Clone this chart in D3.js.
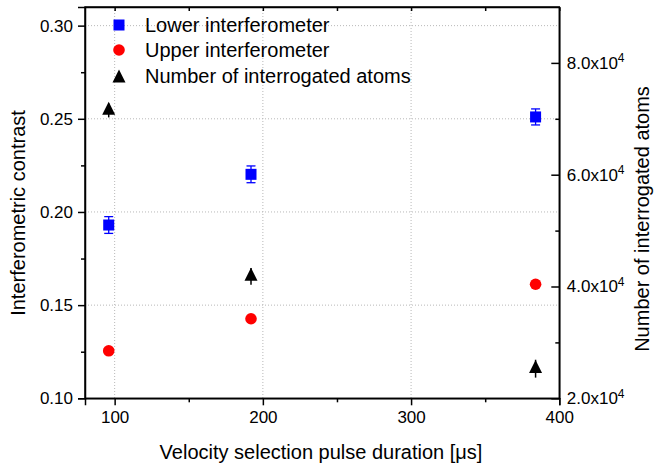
<!DOCTYPE html>
<html><head><meta charset="utf-8">
<script src="https://cdn.jsdelivr.net/npm/d3@7"></script>
<style>
body{margin:0;background:#fff;}
text{font-family:"Liberation Sans",Arial,sans-serif;fill:#000;}
</style></head>
<body><svg id="c" width="654" height="467"></svg>
<script>
// data
const durations = [96, 192, 384];
const lowerContrast = [0.193, 0.2202, 0.251];
const lowerErr = [0.0045, 0.0045, 0.0043];
const upperContrast = [0.1255, 0.1427, 0.1612];
const atoms = [71500, 41800, 25300];
const atomsErr = [1250, 1500, 1600];
const xMajor = [100, 200, 300, 400];
const xMinor = [150, 250, 350];
const yLMajor = [0.10, 0.15, 0.20, 0.25, 0.30];
const yLMinor = [0.125, 0.175, 0.225, 0.275];
const yRMajor = [20000, 40000, 60000, 80000];
const yRMinor = [30000, 50000, 70000];
const legendLabels = ["Lower interferometer", "Upper interferometer", "Number of interrogated atoms"];

const svg = d3.select("#c");
const L = 85, R = 559.3, T = 7, B = 398.3;
const x = d3.scaleLinear([80, 400], [L, R]);
const yL = d3.scaleLinear([0.10, 0.31], [B, T]);
const yR = d3.scaleLinear([20000, 90000], [B, T]);

// grid
const grid = svg.append("g").attr("stroke", "#b8b8b8").attr("stroke-width", 1).attr("stroke-dasharray", "1,2");
grid.selectAll(".gv").data([100, 200, 300]).join("line")
  .attr("x1", d => x(d)).attr("x2", d => x(d)).attr("y1", T).attr("y2", B);
grid.selectAll(".gh").data([0.15, 0.20, 0.25, 0.30]).join("line")
  .attr("y1", d => yL(d)).attr("y2", d => yL(d)).attr("x1", L).attr("x2", R);

function styleAxis(g) {
  g.selectAll("path").attr("stroke", "#000").attr("stroke-width", 1.5);
  g.selectAll("line").attr("stroke", "#000").attr("stroke-width", 1.5);
  g.selectAll("text").attr("font-size", 17).attr("font-family", "Liberation Sans, Arial, sans-serif");
}

// bottom axis
const gb = svg.append("g").attr("transform", `translate(0,${B})`)
  .call(d3.axisBottom(x).tickValues(xMajor).tickSize(7).tickPadding(6).tickFormat(d3.format("d")));
styleAxis(gb);
svg.append("g").attr("transform", `translate(0,${B})`)
  .call(d3.axisBottom(x).tickValues(xMinor).tickSize(4).tickFormat("")).call(g => g.select("path").remove()).call(styleAxis);
// top axis (inward)
svg.append("g").attr("transform", `translate(0,${T})`)
  .call(d3.axisTop(x).tickValues(xMajor.concat(xMinor)).tickSizeInner(-4).tickSizeOuter(0).tickFormat("")).call(styleAxis);

// left axis
const gl = svg.append("g").attr("transform", `translate(${L},0)`)
  .call(d3.axisLeft(yL).tickValues(yLMajor).tickSize(7).tickPadding(5).tickFormat(d3.format(".2f")));
styleAxis(gl);
svg.append("g").attr("transform", `translate(${L},0)`)
  .call(d3.axisLeft(yL).tickValues(yLMinor).tickSize(4).tickFormat("")).call(g => g.select("path").remove()).call(styleAxis);

// right axis (ticks inward)
const gr = svg.append("g").attr("transform", `translate(${R},0)`)
  .call(d3.axisRight(yR).tickValues(yRMajor).tickSizeInner(-8).tickSizeOuter(0).tickPadding(7.5).tickFormat(""));
styleAxis(gr);
gr.selectAll(".tick text").each(function(d) {
  const t = d3.select(this);
  t.append("tspan").text((d / 10000).toFixed(1) + "x10");
  t.append("tspan").attr("font-size", 12).attr("dy", "-0.55em").text("4");
});
svg.append("g").attr("transform", `translate(${R},0)`)
  .call(d3.axisRight(yR).tickValues(yRMinor).tickSizeInner(-4).tickSizeOuter(0).tickFormat("")).call(g => g.select("path").remove()).call(styleAxis);

// axis titles
svg.append("text").attr("x", 321).attr("y", 459).attr("text-anchor", "middle").attr("font-size", 20)
  .text("Velocity selection pulse duration [\u03bcs]");
svg.append("text").attr("transform", "translate(25,213) rotate(-90)").attr("text-anchor", "middle").attr("font-size", 20)
  .text("Interferometric contrast");
svg.append("text").attr("transform", "translate(649,219) rotate(-90)").attr("text-anchor", "middle").attr("font-size", 20)
  .text("Number of interrogated atoms");

// markers
const triBox = (cx, cy, s) => `M${cx},${cy - s / 2}L${cx + s / 2},${cy + s / 2}L${cx - s / 2},${cy + s / 2}Z`;
const triCentroid = (cx, cy, s) => `M${cx},${cy - s * 2 / 3}L${cx + s / 2},${cy + s / 3}L${cx - s / 2},${cy + s / 3}Z`;

// atoms error bars + triangles
const gA = svg.append("g");
durations.forEach((d, i) => {
  gA.append("line").attr("x1", x(d)).attr("x2", x(d))
    .attr("y1", yR(atoms[i] + atomsErr[i])).attr("y2", yR(atoms[i] - atomsErr[i]))
    .attr("stroke", "#000").attr("stroke-width", 1.5);
  gA.append("path").attr("d", triCentroid(x(d), yR(atoms[i]), 13)).attr("fill", "#000");
});

// lower interferometer error bars + squares
const gLo = svg.append("g");
durations.forEach((d, i) => {
  const cx = x(d), y1 = yL(lowerContrast[i] + lowerErr[i]), y2 = yL(lowerContrast[i] - lowerErr[i]);
  gLo.append("line").attr("x1", cx).attr("x2", cx).attr("y1", y1).attr("y2", y2).attr("stroke", "#0000ff").attr("stroke-width", 1.3);
  [y1, y2].forEach(yy => gLo.append("line").attr("x1", cx - 4.5).attr("x2", cx + 4.5).attr("y1", yy).attr("y2", yy)
    .attr("stroke", "#0000ff").attr("stroke-width", 1.3));
  gLo.append("rect").attr("x", cx - 5.5).attr("y", yL(lowerContrast[i]) - 5.5).attr("width", 11).attr("height", 11).attr("fill", "#0000ff");
});

// upper interferometer circles
svg.append("g").selectAll("circle").data(durations).join("circle")
  .attr("cx", d => x(d)).attr("cy", (d, i) => yL(upperContrast[i])).attr("r", 5.8).attr("fill", "#ff0000");

// legend
const lg = svg.append("g");
const rows = [25, 50, 76];
lg.append("rect").attr("x", 119 - 5.5).attr("y", rows[0] - 5.5).attr("width", 11).attr("height", 11).attr("fill", "#0000ff");
lg.append("circle").attr("cx", 119).attr("cy", rows[1]).attr("r", 5.8).attr("fill", "#ff0000");
lg.append("path").attr("d", triBox(119, rows[2], 13)).attr("fill", "#000");
legendLabels.forEach((t, i) => lg.append("text").attr("x", 145).attr("y", rows[i]).attr("dy", "0.36em").attr("font-size", 20).text(t));

// frame on top
svg.append("rect").attr("x", L).attr("y", T).attr("width", R - L).attr("height", B - T)
  .attr("fill", "none").attr("stroke", "#000").attr("stroke-width", 1.5);
</script></body></html>
